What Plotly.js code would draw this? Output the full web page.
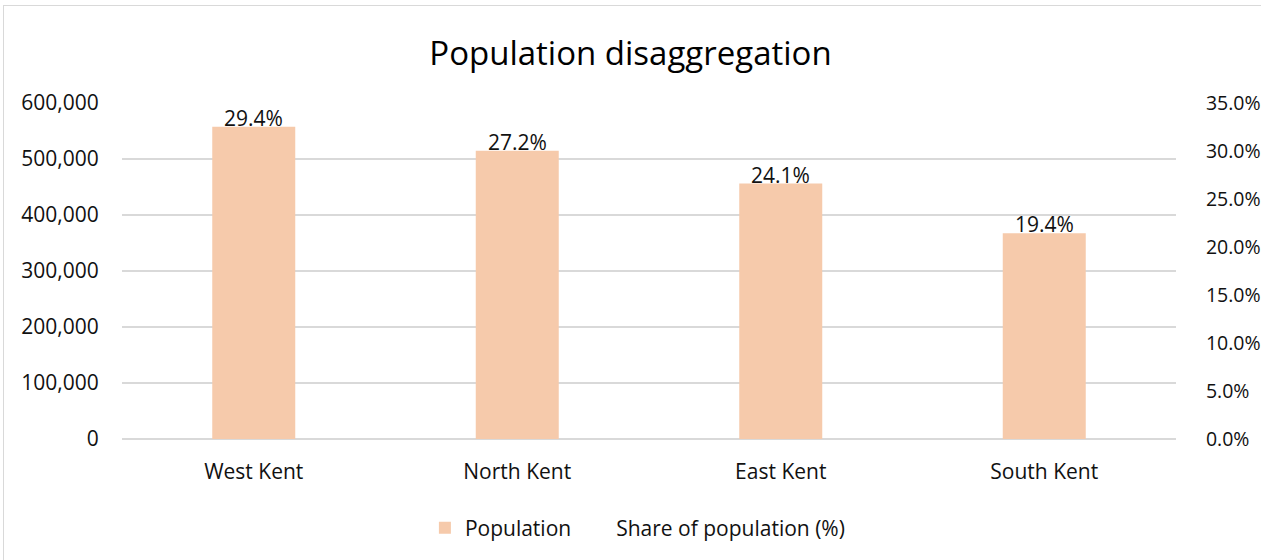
<!DOCTYPE html>
<html>
<head>
<meta charset="utf-8">
<script src="https://cdn.plot.ly/plotly-3.0.1.min.js"></script>
<style>
  html, body { margin: 0; padding: 0; background: #ffffff; overflow: hidden; }
  #frame { position: absolute; left: 3px; top: 5px; width: 1270px; height: 570px; border: 1.5px solid #d9d9d9; box-sizing: border-box; }
  #chart { position: absolute; left: 0; top: 0; width: 1261px; height: 560px; }
</style>
</head>
<body>
<div id="frame"></div>
<div id="chart"></div>
<script>
const categories = ["West Kent", "North Kent", "East Kent", "South Kent"];
const population = [557400, 514800, 456200, 367500];
const sharePct = [29.4, 27.2, 24.1, 19.4];
const leftTicks = [0, 100000, 200000, 300000, 400000, 500000, 600000];
const rightTicks = [0, 0.05, 0.10, 0.15, 0.20, 0.25, 0.30, 0.35];

const FONT = "Open Sans, Lato, sans-serif";
const TXT = "#111111";

const traces = [
  {
    type: "bar",
    name: "Population",
    x: categories,
    y: population,
    marker: { color: "#f6caab" },
    width: 0.315,
    hoverinfo: "x+y"
  },
  {
    type: "scatter",
    mode: "lines",
    name: "Share of population (%)",
    x: categories,
    y: sharePct.map(v => v / 100),
    yaxis: "y2",
    line: { color: "rgba(0,0,0,0)", width: 0 },
    hoverinfo: "skip"
  }
];

const annotations = categories.map((c, i) => ({
  x: c,
  y: population[i],
  xref: "x",
  yref: "y",
  text: sharePct[i].toFixed(1) + "%",
  showarrow: false,
  yanchor: "middle",
  xanchor: "center",
  yshift: 9,
  font: { family: FONT, size: 21, color: TXT }
}));

const layout = {
  width: 1261,
  height: 560,
  paper_bgcolor: "rgba(0,0,0,0)",
  plot_bgcolor: "rgba(0,0,0,0)",
  margin: { l: 122, r: 85, t: 103, b: 119 },
  font: { family: FONT, size: 21, color: TXT },
  title: {
    text: "Population disaggregation",
    font: { family: FONT, size: 33, color: "#000000" },
    x: 0.5, xanchor: "center",
    y: 0.905, yanchor: "middle"
  },
  annotations: annotations,
  showlegend: true,
  legend: {
    orientation: "h",
    x: 0.489, xanchor: "center",
    y: -0.265, yanchor: "middle",
    font: { family: FONT, size: 21, color: TXT },
    traceorder: "normal",
    itemwidth: 30
  },
  xaxis: {
    type: "category",
    showgrid: false,
    showline: false,
    zeroline: false,
    ticks: "outside",
    ticklen: 14,
    tickcolor: "rgba(0,0,0,0)",
    tickfont: { family: FONT, size: 21, color: TXT },
    fixedrange: true
  },
  yaxis: {
    range: [0, 600000],
    tickvals: leftTicks,
    tickformat: ",d",
    showgrid: true,
    gridcolor: "#d9d9d9",
    gridwidth: 1.5,
    zeroline: true,
    zerolinecolor: "#d9d9d9",
    zerolinewidth: 1.5,
    showline: false,
    ticks: "outside",
    ticklen: 18,
    tickcolor: "rgba(0,0,0,0)",
    tickfont: { family: FONT, size: 21, color: TXT },
    fixedrange: true
  },
  yaxis2: {
    overlaying: "y",
    side: "right",
    range: [0, 0.35],
    tickvals: rightTicks,
    tickformat: ".1%",
    showgrid: false,
    zeroline: false,
    showline: false,
    ticks: "outside",
    ticklen: 25,
    tickcolor: "rgba(0,0,0,0)",
    tickfont: { family: FONT, size: 19.5, color: TXT },
    fixedrange: true
  }
};

Plotly.newPlot("chart", traces, layout, { displayModeBar: false, staticPlot: true });
</script>
</body>
</html>
